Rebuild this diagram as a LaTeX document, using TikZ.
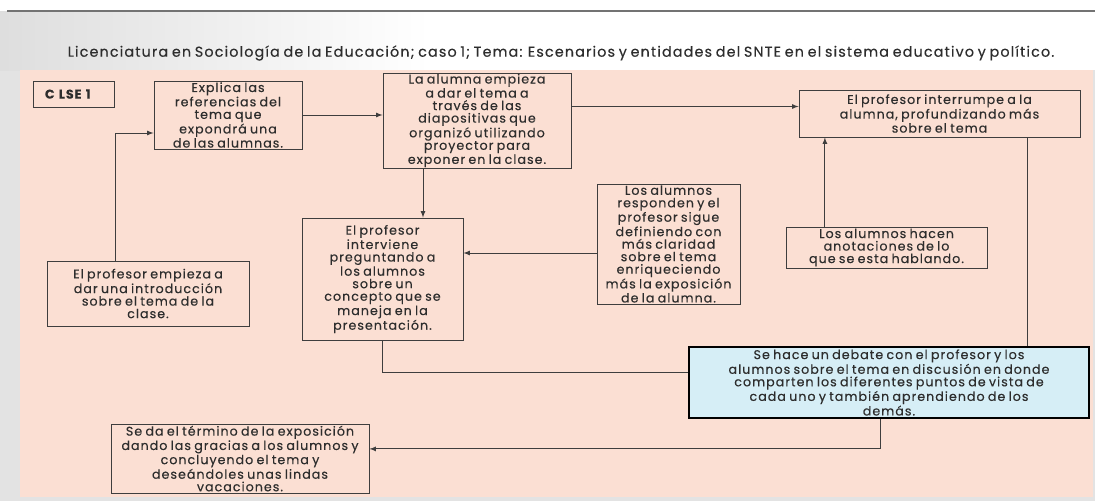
\documentclass[tikz,border=0pt]{standalone}
\usepackage{fontspec}
\setmainfont{Poppins}[LetterSpace=8, WordSpace=0.75, FakeBold=0.3]
\tikzset{>=latex}
\definecolor{rosa}{RGB}{251,223,211}
\definecolor{celeste}{RGB}{214,238,246}
\definecolor{gris}{RGB}{62,62,62}
\definecolor{texto}{RGB}{45,45,45}
\tikzset{
	caja/.style={draw=gris, line width=0.6pt, fill=rosa, text=texto, align=center, inner sep=0pt, font=\fontsize{9}{8.9}\selectfont},
	flecha/.style={->, draw=gris, line width=0.6pt},
	enlace/.style={draw=gris, line width=0.6pt}
}

\begin{document}
\begin{tikzpicture}[x=0.025cm, y=-0.025cm]
%	\draw[help lines, step=20] (0,0) grid (1095,501);
	\useasboundingbox (0,0) rectangle (1095,501);
	\fill [black!11] (0,11) rectangle (1095,501);
	\shade [left color=black!13, right color=white] (0,11) rectangle (430,70);
	\fill [white] (430,11) rectangle (1095,70);
	\draw [black!55, line width=0.8pt] (7,11) -- (1095,11);
	\fill [rosa] (20,70) rectangle (1093,497);
	\node [text=texto, font=\fontsize{10.2}{11}\selectfont] (titulo) at (561,53) {Licenciatura en Sociología de la Educación; caso 1; Tema: Escenarios y entidades del SNTE en el sistema educativo y político.};
	% cajas
	\node [caja, minimum width=2.025cm, minimum height=0.65cm, text width=1.425cm, inner xsep=0.3cm, align=left, font=\fontsize{9}{9.2}\bfseries] (clse) at (73.5,94) {C LSE 1};
	\node [caja, minimum width=3.7cm, minimum height=1.7cm] (explica) at (228,115) {Explica las\\referencias del\\tema que\\expondrá una\\de las alumnas.};
	\node [caja, minimum width=4.7cm, minimum height=2.375cm] (alumna) at (477,120.5) {La alumna empieza\\a dar el tema a\\través de las\\diapositivas que\\organizó utilizando\\proyector para\\exponer en la clase.};
	\node [caja, minimum width=7.025cm, minimum height=1.175cm] (interrumpe) at (939.5,113.5) {El profesor interrumpe a la\\alumna, profundizando más\\sobre el tema};
	\node [caja, minimum width=3.575cm, minimum height=3cm] (responden) at (668.5,244) {Los alumnos\\responden y el\\profesor sigue\\definiendo con\\más claridad\\sobre el tema\\enriqueciendo\\más la exposición\\de la alumna.};
	\node [caja, minimum width=5.025cm, minimum height=1.025cm] (anotaciones) at (886.5,247.5) {Los alumnos hacen\\anotaciones de lo\\que se esta hablando.};
	\node [caja, minimum width=4.025cm, minimum height=3.05cm] (interviene) at (382.5,279) {El profesor\\interviene\\preguntando a\\los alumnos\\sobre un\\concepto que se\\maneja en la\\presentación.};
	\node [caja, minimum width=5.05cm, minimum height=1.625cm] (intro) at (148,293.5) {El profesor empieza a\\dar una introducción\\sobre el tema de la\\clase.};
	\node [caja, fill=celeste, draw=black, line width=2pt, minimum width=10cm, minimum height=1.775cm] (debate) at (889,382.5) {Se hace un debate con el profesor y los\\alumnos sobre el tema en discusión en donde\\comparten los diferentes puntos de vista de\\cada uno y también aprendiendo de los\\demás.};
	\node [caja, minimum width=6.45cm, minimum height=1.725cm] (termino) at (240,458.5) {Se da el término de la exposición\\dando las gracias a los alumnos y\\concluyendo el tema y\\deseándoles unas lindas\\vacaciones.};
	% conectores
	\draw [flecha] ([xshift=-0.825cm]intro.north) |- ([yshift=-0.45cm]explica.west);
	\draw [flecha] (explica.east) -- (explica.east -| alumna.west);
	\draw [flecha] ([yshift=0.35cm]alumna.east) -- ([yshift=0.35cm]alumna.east -| interrumpe.west);
	\draw [flecha] ([xshift=-1.35cm]alumna.south) -- ([xshift=-1.35cm]alumna.south |- interviene.north);
	\draw [flecha] ([yshift=-0.225cm]responden.west) -- ([yshift=-0.225cm]responden.west -| interviene.east);
	\draw [flecha] ([xshift=-1.54cm]anotaciones.north) -- ([xshift=-1.54cm]anotaciones.north |- interrumpe.south);
	\draw [enlace] ([xshift=2.19cm]interrumpe.south) -- ([xshift=2.19cm]interrumpe.south |- debate.north);
	\draw [enlace] (interviene.south) |- ([yshift=0.24cm]debate.west);
	\draw [flecha] ([xshift=-0.225cm]debate.south) |- ([yshift=0.24cm]termino.east);
\end{tikzpicture}
\end{document}
